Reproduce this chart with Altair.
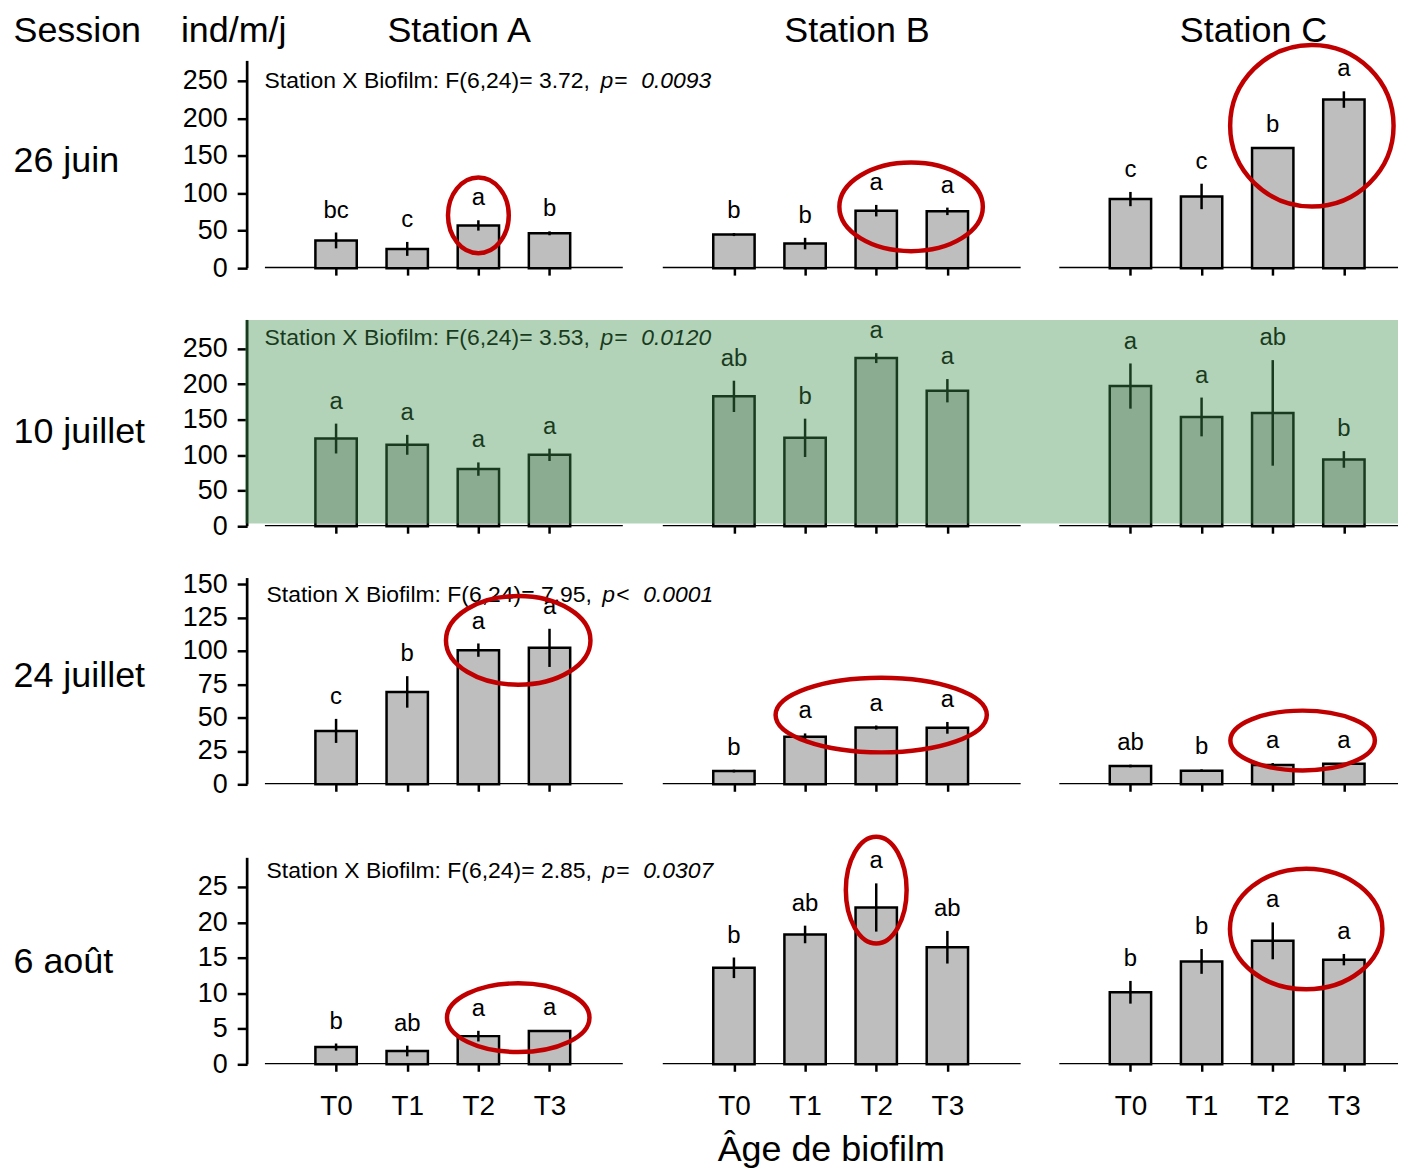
import altair as alt
import pandas as pd

# ---------------- data ----------------
sessions = ["26 juin", "10 juillet", "24 juillet", "6 août"]
stations = ["Station A", "Station B", "Station C"]
times = ["T0", "T1", "T2", "T3"]

# mean abundance (ind/m/j): [station A, station B, station C] x [T0..T3]
mean_26_juin = [[37.0, 25.7, 57.0, 46.5], [44.8, 32.8, 76.7, 75.8], [92.2, 95.7, 160.5, 225.0]]
mean_10_juillet = [[123.4, 114.6, 80.4, 100.5], [182.8, 124.4, 236.6, 190.7], [197.3, 153.8, 159.5, 94.0]]
mean_24_juillet = [[40.0, 69.2, 100.5, 102.2], [9.9, 35.6, 42.5, 42.3], [13.7, 10.2, 14.4, 15.4]]
mean_6_aout = [[2.43, 1.87, 3.97, 4.68], [13.6, 18.3, 22.1, 16.5], [10.15, 14.5, 17.4, 14.75]]

# error (half length of the error bar)
err_26_juin = [[10.6, 9.3, 6.9, 2.6], [2.0, 7.7, 7.7, 5.0], [9.5, 17.0, 1.0, 11.0]]
err_10_juillet = [[21.0, 14.0, 9.4, 8.7], [22.0, 27.0, 7.0, 16.4], [31.8, 27.3, 74.3, 11.7]]
err_24_juillet = [[9.0, 11.8, 5.0, 14.3], [1.0, 2.5, 1.5, 4.4], [1.0, 1.0, 1.5, 0.5]]
err_6_aout = [[0.5, 0.75, 0.75, 0.1], [1.45, 1.24, 3.4, 2.3], [1.6, 1.75, 2.6, 0.8]]

# significance letters
let_26_juin = [["bc", "c", "a", "b"], ["b", "b", "a", "a"], ["c", "c", "b", "a"]]
let_10_juillet = [["a", "a", "a", "a"], ["ab", "b", "a", "a"], ["a", "a", "ab", "b"]]
let_24_juillet = [["c", "b", "a", "a"], ["b", "a", "a", "a"], ["ab", "b", "a", "a"]]
let_6_aout = [["b", "ab", "a", "a"], ["b", "ab", "a", "ab"], ["b", "b", "a", "a"]]

# ANOVA annotation per session
f_values = ["3.72", "3.53", "7.95", "2.85"]
p_ops = ["=", "=", "<", "="]
p_values = ["0.0093", "0.0120", "0.0001", "0.0307"]

# y axis ticks per session
y_ticks = [[0, 50, 100, 150, 200, 250], [0, 50, 100, 150, 200, 250],
           [0, 25, 50, 75, 100, 125, 150], [0, 5, 10, 15, 20, 25]]
y_axis_top = [276.6, 290.3, 154.5, 29.1]      # top of the drawn y axis line
y_top = [276.6, 290.3, 154.5, 32.16]          # top of the scale domain

# red highlight ellipses: (session, station, centre in bar slots, centre value, rx px, ry px)
circles = [
    (0, 0, 2.00, 70.5, 30.5, 38.0),
    (0, 1, 2.49, 81.8, 72.0, 44.5),
    (0, 2, 2.55, 190.0, 82.0, 81.0),
    (2, 0, 2.56, 107.8, 72.5, 44.5),
    (2, 1, 2.07, 51.9, 106.0, 37.5),
    (2, 2, 2.42, 32.8, 72.5, 30.0),
    (3, 0, 2.56, 6.57, 71.5, 34.5),
    (3, 1, 2.00, 24.55, 30.5, 53.5),
    (3, 2, 2.47, 19.07, 76.5, 60.5),
]

means = [mean_26_juin, mean_10_juillet, mean_24_juillet, mean_6_aout]
errs = [err_26_juin, err_10_juillet, err_24_juillet, err_6_aout]
letters = [let_26_juin, let_10_juillet, let_24_juillet, let_6_aout]

# ---------------- layout ----------------
FONT = "Liberation Sans"
station_off = [0.0, 5.592, 11.165]      # first bar of each station, in bar slots
x_domain = [-1.25, 14.926]
PLOT_W = 1155
row_height = [208, 207, 207, 229]
label_left = -234.5                     # px from plot left
annot_y = [27, 25, 24, 42]
annot_dx = [0, 0, 2, 2]
row_label_y = [112, 123, 109, 137]

tick_vals = [off + t for off in station_off for t in range(4)]
label_expr = ("'T' + round(datum.value >= %g ? datum.value - %g : "
              "datum.value >= %g ? datum.value - %g : datum.value)"
              % (station_off[2] - 0.5, station_off[2], station_off[1] - 0.5, station_off[1]))


def ellipse_path(ratio):
    k = 0.5523
    r = ratio
    return ("M 1 0 C 1 {a} {k} {r} 0 {r} C {mk} {r} -1 {a} -1 0 "
            "C -1 {ma} {mk} {mr} 0 {mr} C {k} {mr} 1 {ma} 1 0 Z").format(
        a=round(k * r, 4), k=k, r=round(r, 4), mk=-k, ma=round(-k * r, 4), mr=round(-r, 4))


def make_row(ri):
    x_axis = alt.Axis(values=tick_vals, domain=False, grid=False, ticks=True, tickSize=7,
                      tickWidth=2.5, tickColor="black", labels=(ri == 3), labelExpr=label_expr,
                      labelFontSize=28, labelPadding=21, labelColor="black", labelFlush=False,
                      title=None, zindex=0)
    y_axis = alt.Axis(values=y_ticks[ri], grid=False, domain=False,
                      tickSize=10, tickWidth=2.5, tickColor="black",
                      labelFontSize=27, labelPadding=10, labelColor="black", title=None, zindex=0)
    xs = alt.Scale(domain=x_domain, nice=False, zero=False, padding=0)
    ys = alt.Scale(domain=[0, y_top[ri]], nice=False, zero=True, padding=0)

    def X(f):
        return alt.X(f"{f}:Q", scale=xs, axis=x_axis)

    def Y(f):
        return alt.Y(f"{f}:Q", scale=ys, axis=y_axis)

    recs = []
    for si in range(3):
        for ti in range(4):
            m = means[ri][si][ti]
            e = errs[ri][si][ti]
            recs.append({"pos": station_off[si] + ti, "mean": m, "lo": max(m - e, 0),
                         "hi": m + e, "letter": letters[ri][si][ti],
                         "station": stations[si], "time": times[ti]})
    df = pd.DataFrame(recs)

    # y axis line
    ax_df = pd.DataFrame({"ax": [x_domain[0]], "y0": [0.0], "y1": [y_axis_top[ri]]})
    yline = alt.Chart(ax_df).mark_rule(strokeWidth=2.7, color="black").encode(
        x=X("ax"), y=Y("y0"), y2="y1")

    base_df = pd.DataFrame({"x1": [o - 1.0 for o in station_off],
                            "x2": [o + 4.03 for o in station_off], "y0": [0, 0, 0]})
    baseline = alt.Chart(base_df).mark_rule(clip=True, strokeWidth=2.7, color="black").encode(
        x=X("x1"), x2="x2", y=Y("y0"))

    bars = alt.Chart(df).mark_bar(orient="vertical", size=41.5, fill="#bebebe", stroke="black",
                                  strokeWidth=2.5).encode(x=X("pos"), y=Y("mean"))
    errbars = alt.Chart(df).mark_rule(strokeWidth=2.5, color="black").encode(
        x=X("pos"), y=Y("lo"), y2="hi")
    lets = alt.Chart(df).mark_text(font=FONT, fontSize=24, dy=-15, baseline="alphabetic",
                                   align="center", color="black").encode(
        x=X("pos"), y=Y("hi"), text="letter:N")

    ann_df = pd.DataFrame({"t": ["x"]})
    dx = annot_dx[ri]
    part1 = alt.Chart(ann_df).mark_text(font=FONT, fontSize=23, align="left", baseline="alphabetic",
                                        color="black").encode(
        x=alt.value(17.5 + dx), y=alt.value(annot_y[ri]),
        text=alt.value(f"Station X Biofilm: F(6,24)= {f_values[ri]},"))
    part_p = alt.Chart(ann_df).mark_text(font=FONT, fontSize=23, fontStyle="italic", align="left",
                                         baseline="alphabetic", color="black").encode(
        x=alt.value(354.5 + dx), y=alt.value(annot_y[ri]), text=alt.value("p"))
    part_op = alt.Chart(ann_df).mark_text(font=FONT, fontSize=23, align="left", baseline="alphabetic",
                                          color="black").encode(
        x=alt.value(368.5 + dx), y=alt.value(annot_y[ri]), text=alt.value(p_ops[ri]))
    part_v = alt.Chart(ann_df).mark_text(font=FONT, fontSize=23, fontStyle="italic", align="left",
                                         baseline="alphabetic", color="black").encode(
        x=alt.value(395.5 + dx), y=alt.value(annot_y[ri]), text=alt.value(p_values[ri]))

    row_lab = alt.Chart(ann_df).mark_text(font=FONT, fontSize=36, align="left", baseline="alphabetic",
                                          color="black").encode(
        x=alt.value(label_left), y=alt.value(row_label_y[ri]), text=alt.value(sessions[ri]))

    layers = [yline, baseline, bars, errbars, lets, part1, part_p, part_op, part_v, row_lab]

    crecs = []
    for (s, st, cx, cy, rx, ry) in circles:
        if s == ri:
            crecs.append({"cx": station_off[st] + cx, "cy": cy,
                          "shape": ellipse_path(ry / rx), "size": (2 * rx) ** 2})
    if crecs:
        cdf = pd.DataFrame(crecs)
        ell = alt.Chart(cdf).mark_point(filled=False, color="#c00000", strokeWidth=4.5,
                                        opacity=1).encode(
            x=X("cx"), y=Y("cy"),
            shape=alt.Shape("shape:N", scale=None),
            size=alt.Size("size:Q", scale=None))
        layers.append(ell)

    if ri == 0:
        hdr_df = pd.DataFrame({"t": ["Session", "ind/m/j"], "px": [label_left, -66.5]})
        hdr = alt.Chart(hdr_df).mark_text(font=FONT, fontSize=36, align="left", baseline="alphabetic",
                                          color="black").encode(
            x=alt.X("px:Q", scale=None), y=alt.value(-19), text="t:N")
        st_df = pd.DataFrame({"t": stations, "sx": [o + 1.73 for o in station_off]})
        sth = alt.Chart(st_df).mark_text(font=FONT, fontSize=36, align="center", baseline="alphabetic",
                                         color="black").encode(
            x=X("sx"), y=alt.value(-19), text="t:N")
        layers += [hdr, sth]

    if ri == 3:
        tdf = pd.DataFrame({"t": ["Âge de biofilm"], "tx": [6.96]})
        ttl = alt.Chart(tdf).mark_text(font=FONT, fontSize=36, align="center", baseline="alphabetic",
                                       color="black").encode(
            x=X("tx"), y=alt.value(row_height[3] + 97), text="t:N")
        layers.append(ttl)

    if ri == 1:
        gdf = pd.DataFrame({"x1": [-1.28], "x2": [x_domain[1]], "y1": [4.0], "y2": [y_top[1]]})
        green = alt.Chart(gdf).mark_rect(color="#41914d", opacity=0.4).encode(
            x=X("x1"), x2="x2", y=Y("y1"), y2="y2")
        layers.append(green)

    return alt.layer(*layers).properties(width=PLOT_W, height=row_height[ri])


rows = [make_row(i) for i in range(4)]
chart = alt.vconcat(*rows, spacing=52, bounds="flush").properties(
    padding={"left": 5, "top": 3, "right": 0, "bottom": 0}
).configure_view(stroke=None).configure_axis(labelFont=FONT).configure_text(font=FONT)

chart.save("out.html", embed_options={"renderer": "svg", "actions": False})
